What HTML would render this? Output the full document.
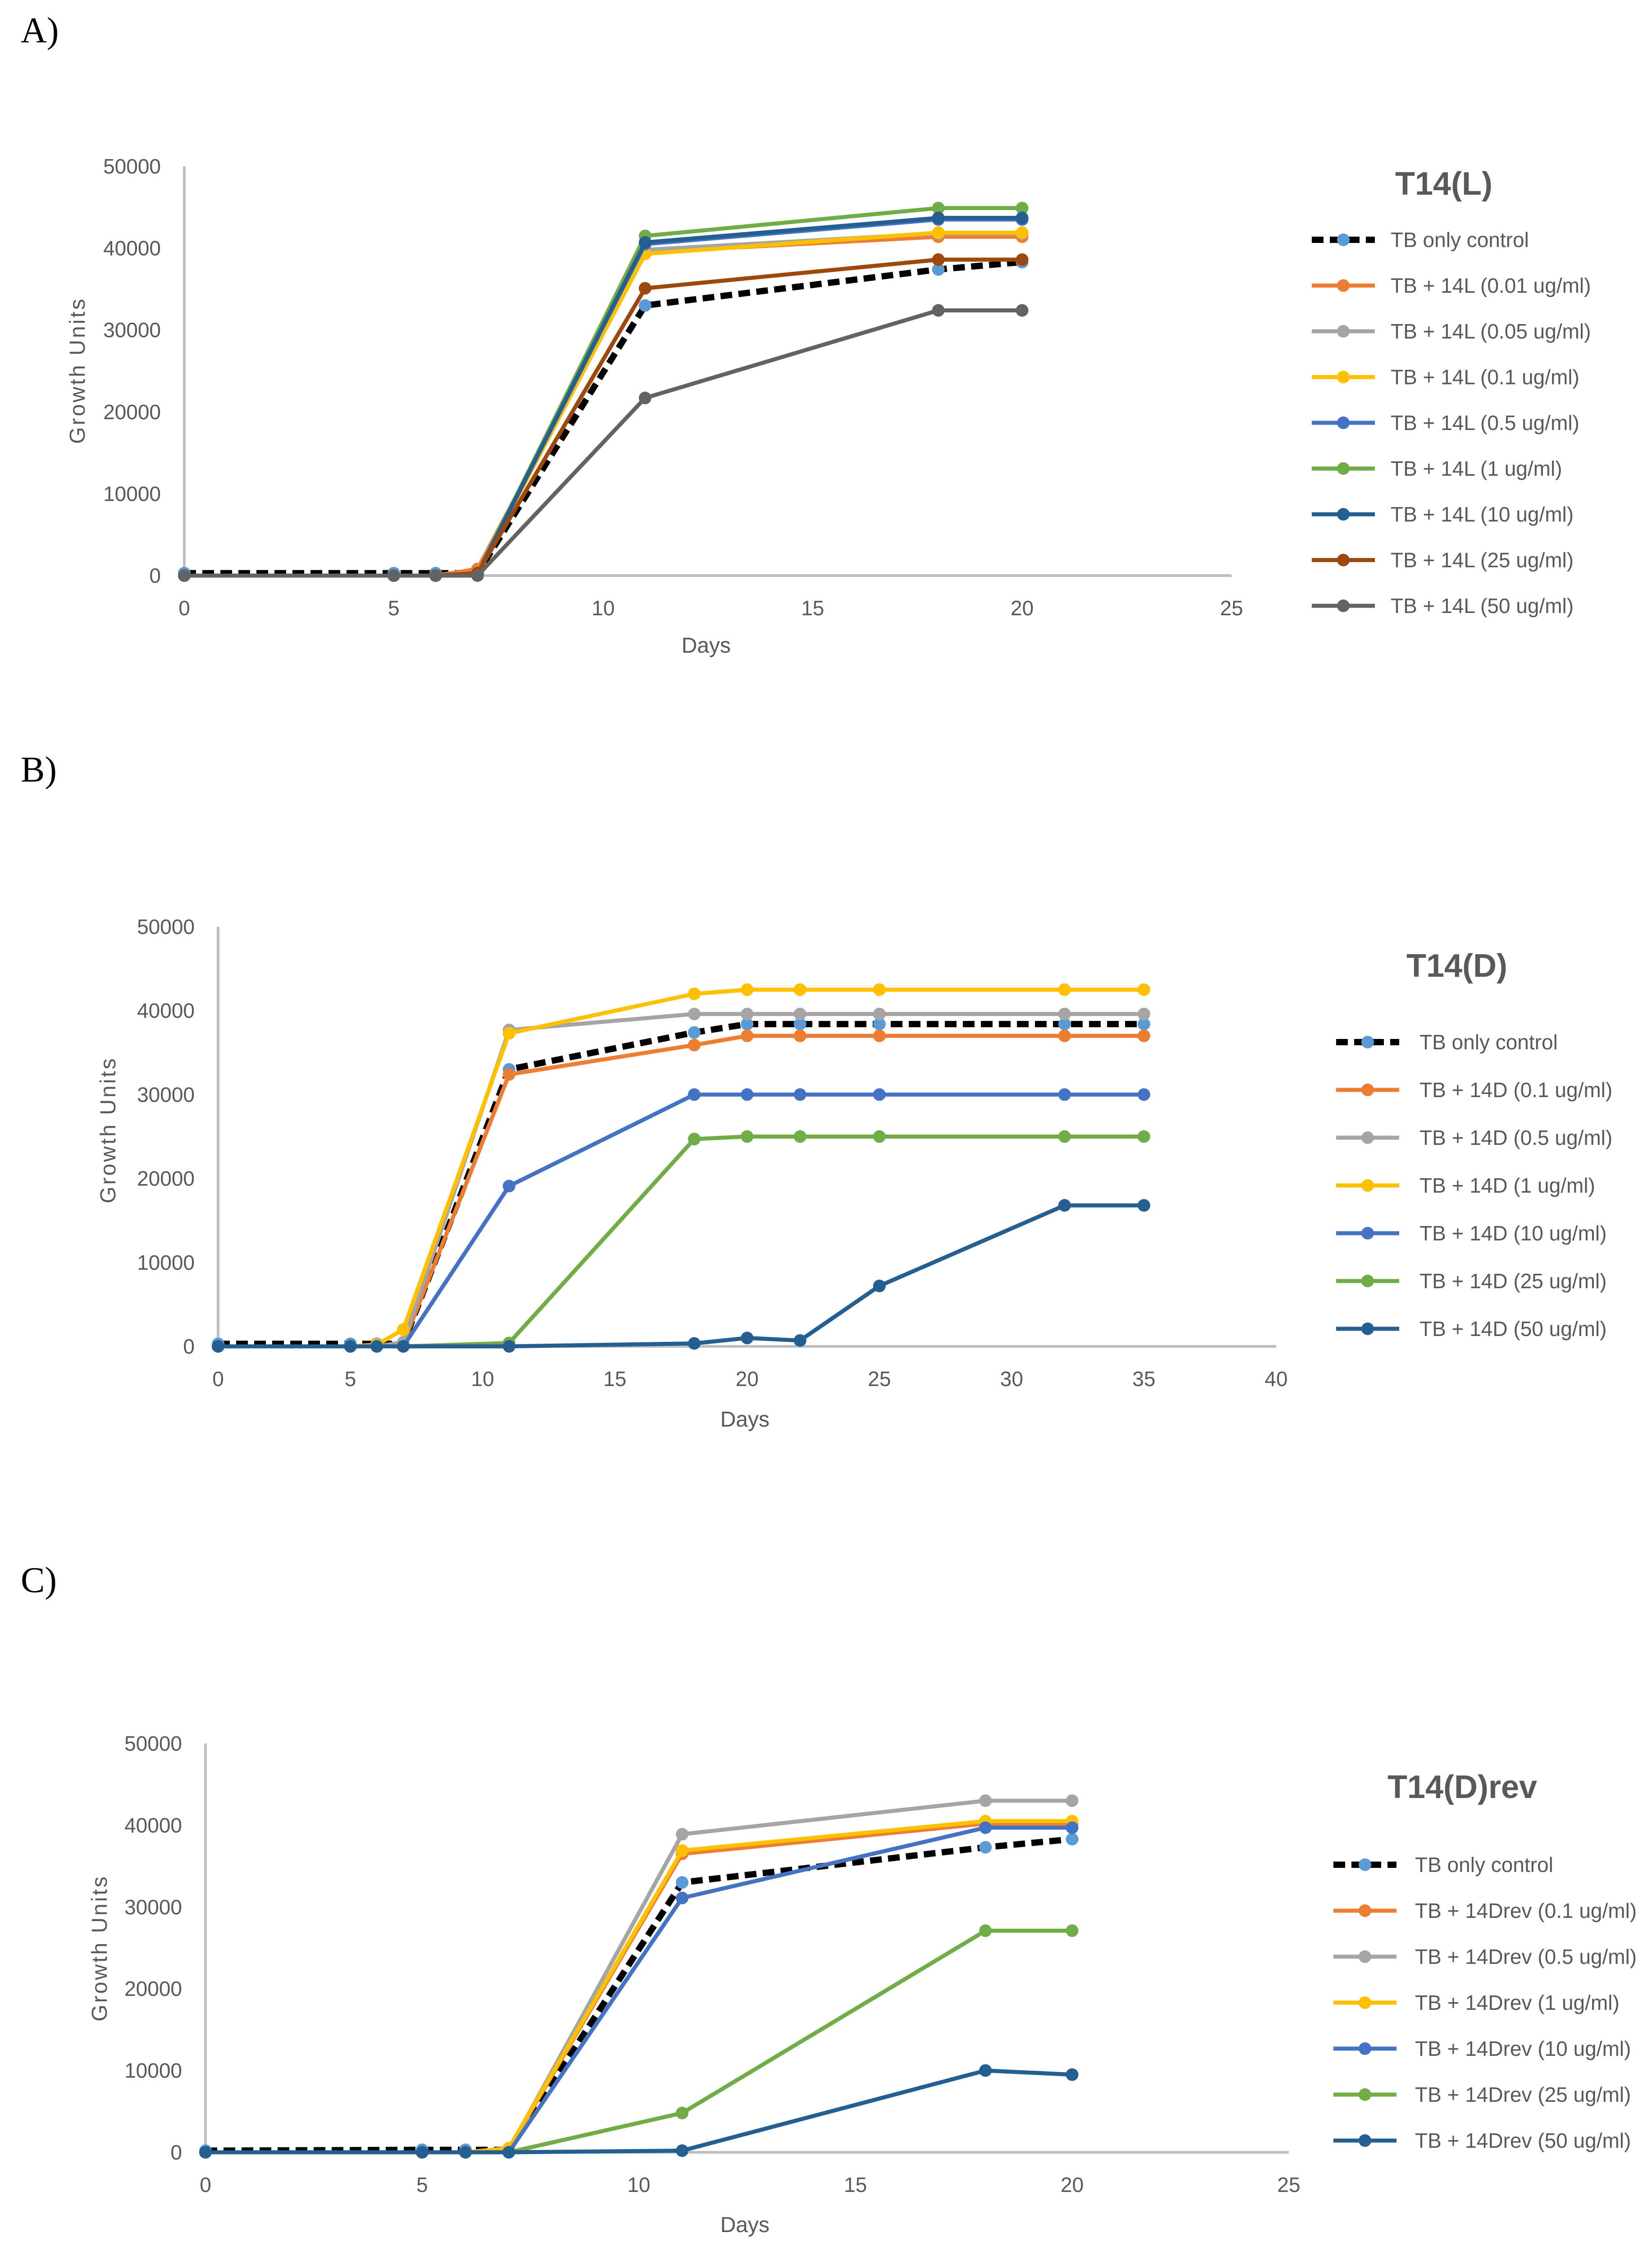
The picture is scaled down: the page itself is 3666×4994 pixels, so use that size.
<!DOCTYPE html>
<html><head><meta charset="utf-8"><title>T14 growth curves</title>
<style>
html,body{margin:0;padding:0;background:#fff;}
svg{display:block;}
</style></head>
<body>
<svg id="fig" width="3666" height="4994" viewBox="0 0 3666 4994" xmlns="http://www.w3.org/2000/svg" font-family="Liberation Sans, sans-serif"></svg>
<script>
// ---- Panel A data ----
const daysA = [0,5,6,7,11,18,20];
const xTicksA = [0,5,10,15,20,25];
const labelsA = ["TB only control","TB + 14L (0.01 ug/ml)","TB + 14L (0.05 ug/ml)","TB + 14L (0.1 ug/ml)","TB + 14L (0.5 ug/ml)","TB + 14L (1 ug/ml)","TB + 14L (10 ug/ml)","TB + 14L (25 ug/ml)","TB + 14L (50 ug/ml)"];
const ctrlA = [300,300,300,300,33000,37400,38300];
const a001 = [0,0,0,800,39500,41400,41400];
const a005 = [0,0,0,300,39800,41800,41800];
const a01 = [0,0,0,300,39300,41900,41900];
const a05 = [0,0,0,200,40500,43500,43500];
const a1 = [0,0,0,200,41500,44900,44900];
const a10 = [0,0,0,200,40700,43700,43700];
const a25 = [0,0,0,300,35100,38600,38600];
const a50 = [0,0,0,0,21700,32400,32400];
// ---- Panel B data ----
const daysB = [0,5,6,7,11,18,20,22,25,32,35];
const xTicksB = [0,5,10,15,20,25,30,35,40];
const labelsB = ["TB only control","TB + 14D (0.1 ug/ml)","TB + 14D (0.5 ug/ml)","TB + 14D (1 ug/ml)","TB + 14D (10 ug/ml)","TB + 14D (25 ug/ml)","TB + 14D (50 ug/ml)"];
const ctrlB = [300,300,300,300,33000,37400,38400,38400,38400,38400,38400];
const b01 = [0,0,0,300,32400,35900,37000,37000,37000,37000,37000];
const b05 = [0,0,0,500,37700,39600,39600,39600,39600,39600,39600];
const b1 = [0,0,200,2000,37300,42000,42500,42500,42500,42500,42500];
const b10 = [0,0,0,0,19100,30000,30000,30000,30000,30000,30000];
const b25 = [0,0,0,0,400,24700,25000,25000,25000,25000,25000];
const b50 = [0,0,0,0,0,350,1000,700,7200,16800,16800];
// ---- Panel C data ----
const daysC = [0,5,6,7,11,18,20];
const xTicksC = [0,5,10,15,20,25];
const labelsC = ["TB only control","TB + 14Drev (0.1 ug/ml)","TB + 14Drev (0.5 ug/ml)","TB + 14Drev (1 ug/ml)","TB + 14Drev (10 ug/ml)","TB + 14Drev (25 ug/ml)","TB + 14Drev (50 ug/ml)"];
const ctrlC = [200,300,300,300,33000,37300,38300];
const c01 = [0,0,0,400,36500,40200,40200];
const c05 = [0,0,0,300,38900,43000,43000];
const c1 = [0,0,0,500,36900,40500,40500];
const c10 = [0,0,0,0,31100,39700,39700];
const c25 = [0,0,0,0,4800,27100,27100];
const c50 = [0,0,0,0,200,10000,9500];
const yTicks = [0,10000,20000,30000,40000,50000];

const NS="http://www.w3.org/2000/svg";
const svg=document.getElementById('fig');
function mk(tag,attrs,parent){const e=document.createElementNS(NS,tag);for(const k in attrs)e.setAttribute(k,attrs[k]);(parent||svg).appendChild(e);return e;}

function panel(cfg){
  const g=mk('g',{});
  
  
  const X=v=>cfg.x0+(v-cfg.xmin)/(cfg.xmax-cfg.xmin)*(cfg.x1-cfg.x0);
  const Y=v=>cfg.y0-(v/50000)*(cfg.y0-cfg.y1);
  const pl=mk('text',{x:46,y:cfg.letterY,'font-size':80,fill:'#000',style:'font-family:"Liberation Serif",serif'},g);
  pl.textContent=cfg.letter;
  
  
  const ya=mk('line',{x1:cfg.x0,y1:cfg.y1,x2:cfg.x0,y2:cfg.y0,stroke:'#BFBFBF','stroke-width':6},g);
  
  
  const xa=mk('line',{x1:cfg.x0,y1:cfg.y0,x2:cfg.x1,y2:cfg.y0,stroke:'#BFBFBF','stroke-width':6},g);
  
  
  yTicks.forEach(t=>{
    const e=mk('text',{x:cfg.x0-52,y:Y(t)+16,'font-size':46,fill:'#595959','text-anchor':'end'},g);
    e.textContent=t;
    
    
  });
  cfg.xTicks.forEach(t=>{
    const e=mk('text',{x:X(t),y:cfg.y0+88,'font-size':46,fill:'#595959','text-anchor':'middle'},g);
    e.textContent=t;
    
    
  });
  const xt=mk('text',{x:cfg.xtX,y:cfg.xtY,'font-size':48,fill:'#595959','text-anchor':'middle'},g);
  xt.textContent='Days';
  
  
  const yt=mk('text',{x:0,y:0,'font-size':48,fill:'#595959','text-anchor':'middle','letter-spacing':4,transform:`translate(${cfg.ytX},${cfg.ytY}) rotate(-90)`},g);
  yt.textContent='Growth Units';
  
  
  const tt=mk('text',{x:cfg.titleX,y:cfg.titleY,'font-size':72,'font-weight':'bold',fill:'#595959','text-anchor':'middle'},g);
  tt.textContent=cfg.title;
  
  
  cfg.series.forEach((s,i)=>{
    const ctrl=i===0;
    const pts=s.map((v,j)=>X(cfg.days[j]).toFixed(1)+','+Y(v).toFixed(1)).join(' ');
    const sg=mk('g',{},g);
    
    
    const ln=mk('polyline',{points:pts,fill:'none',stroke:ctrl?'#000':cfg.colors[i],'stroke-width':ctrl?14:9,'stroke-linejoin':'round','stroke-dasharray':ctrl?'26 14':'none'},sg);
    
    
    s.forEach((v,j)=>{
      const c=mk('circle',{cx:X(cfg.days[j]),cy:Y(v),r:14,fill:ctrl?'#5B9BD5':cfg.colors[i]},sg);
      
      
    });
    const ly=cfg.legY+i*cfg.legStep;
    const lg=mk('g',{},g);
    
    
    mk('line',{x1:cfg.legX,y1:ly,x2:cfg.legX+140,y2:ly,stroke:ctrl?'#000':cfg.colors[i],'stroke-width':ctrl?14:9,'stroke-dasharray':ctrl?'26 14':'none'},lg);
    mk('circle',{cx:cfg.legX+70,cy:ly,r:14,fill:ctrl?'#5B9BD5':cfg.colors[i]},lg);
    const lt=mk('text',{x:cfg.legText,y:ly+16,'font-size':46,fill:'#595959'},lg);
    lt.textContent=cfg.labels[i];
  });
}
panel({id:'panel-a',letter:'A)',letterY:94,title:'T14(L)',titleX:3204,titleY:432,
  x0:409,x1:2733,y0:1277,y1:369,xmin:0,xmax:25,xTicks:xTicksA,days:daysA,
  xtX:1567,xtY:1448,ytX:188,ytY:822,
  series:[ctrlA,a001,a005,a01,a05,a1,a10,a25,a50],labels:labelsA,
  colors:['#000','#ED7D31','#A5A5A5','#FFC000','#4472C4','#70AD47','#255E91','#9E480E','#636363'],
  legX:2911,legText:3086,legY:532,legStep:101.5});
panel({id:'panel-b',letter:'B)',letterY:1734,title:'T14(D)',titleX:3233,titleY:2167,
  x0:484,x1:2832,y0:2987,y1:2056,xmin:0,xmax:40,xTicks:xTicksB,days:daysB,
  xtX:1653,xtY:3165,ytX:256,ytY:2507,
  series:[ctrlB,b01,b05,b1,b10,b25,b50],labels:labelsB,
  colors:['#000','#ED7D31','#A5A5A5','#FFC000','#4472C4','#70AD47','#255E91'],
  legX:2965,legText:3150,legY:2312,legStep:106});
panel({id:'panel-c',letter:'C)',letterY:3532,title:'T14(D)rev',titleX:3245,titleY:3989,
  x0:456,x1:2860,y0:4775,y1:3868,xmin:0,xmax:25,xTicks:xTicksC,days:daysC,
  xtX:1653,xtY:4952,ytX:237,ytY:4322,
  series:[ctrlC,c01,c05,c1,c10,c25,c50],labels:labelsC,
  colors:['#000','#ED7D31','#A5A5A5','#FFC000','#4472C4','#70AD47','#255E91'],
  legX:2959,legText:3140,legY:4137,legStep:102});
</script>
</body></html>
